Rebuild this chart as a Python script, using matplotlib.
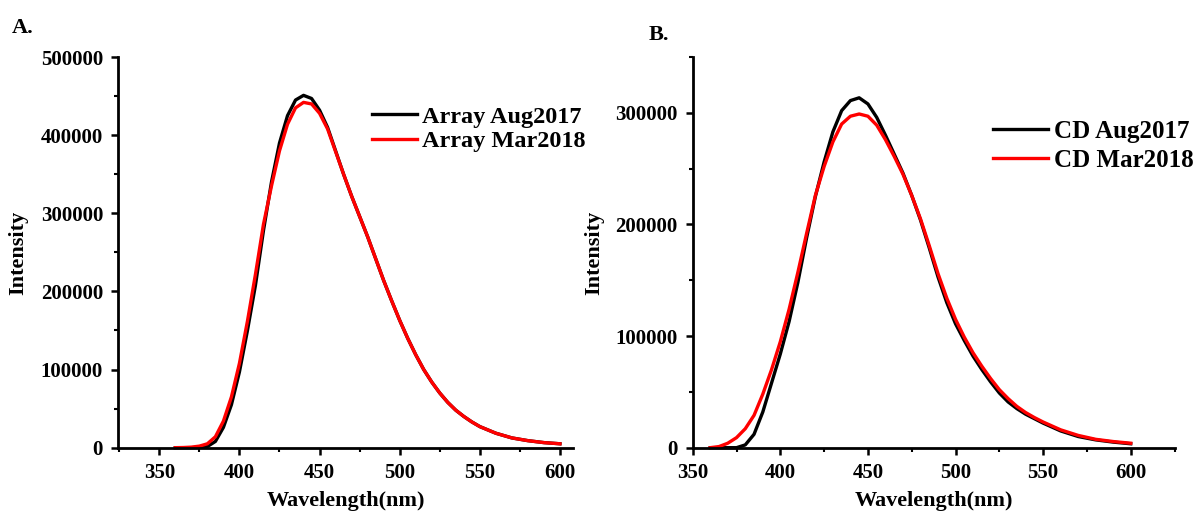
import numpy as np
import matplotlib
matplotlib.use("Agg")
import matplotlib.pyplot as plt
from matplotlib.ticker import MultipleLocator

plt.rcParams['font.family'] = ['Liberation Serif', 'DejaVu Serif']
plt.rcParams['font.weight'] = 'bold'

# wavelength grid (nm)
wl = [360, 365, 370, 375, 380, 385, 390, 395, 400, 405, 410, 415, 420, 425, 430,
      435, 440, 445, 450, 455, 460, 465, 470, 475, 480, 485, 490, 495, 500, 505,
      510, 515, 520, 525, 530, 535, 540, 545, 550, 560, 570, 580, 590, 600]

# panel A
array_aug2017 = [0, 0, 0, 300, 1500, 8000, 26000, 55000, 97000, 150000, 208000, 278000,
                 340000, 390000, 425000, 445000, 451000, 447000, 432000, 410000, 380000,
                 350000, 322000, 296000, 270000, 242000, 214000, 188000, 163000, 140000,
                 119000, 100000, 84000, 70000, 58000, 48000, 40000, 33000, 27000, 18500,
                 12500, 9000, 6500, 5000]
array_mar2018 = [0, 200, 700, 2000, 5000, 14000, 34000, 65000, 108000, 162000, 222000, 286000,
                 335000, 380000, 414000, 435000, 442000, 440000, 428000, 408000, 379000,
                 350000, 322000, 296000, 270000, 242000, 214000, 188000, 163000, 140000,
                 119000, 100000, 84000, 70000, 58000, 48000, 40000, 33000, 27000, 18500,
                 12500, 9000, 6500, 5000]

# panel B
cd_aug2017 = [0, 0, 0, 0, 2500, 12000, 32000, 58000, 84000, 113000, 148000, 188000,
              225000, 256000, 283000, 302000, 311000, 313500, 308000, 296000, 280000,
              263000, 246000, 226000, 204000, 179000, 153000, 130000, 111000, 96000,
              82000, 70000, 59000, 49000, 41000, 35000, 30000, 26000, 22000, 15000,
              10000, 7000, 5000, 3500]
cd_mar2018 = [0, 1000, 4000, 9000, 17000, 29000, 48000, 70000, 95000, 124000, 157000, 192000,
              226000, 252000, 274000, 290000, 297000, 299000, 297000, 289000, 276000,
              261000, 245000, 226000, 205000, 181000, 156000, 134000, 115000, 99000,
              85000, 73000, 62000, 52000, 44000, 37000, 31500, 27000, 23000, 16000,
              11000, 7500, 5500, 4000]

fig = plt.figure(figsize=(11.96, 5.16), dpi=100)
axA = fig.add_axes([0.0989, 0.1324, 0.3804, 0.757])
axB = fig.add_axes([0.5792, 0.1324, 0.4033, 0.757])


def style_axis(ax, xlim, ylim):
    ax.set_xlim(*xlim)
    ax.set_ylim(*ylim)
    for s in ['top', 'right']:
        ax.spines[s].set_visible(False)
    for s in ['left', 'bottom']:
        ax.spines[s].set_linewidth(2.0)
    ax.xaxis.set_major_locator(MultipleLocator(50))
    ax.xaxis.set_minor_locator(MultipleLocator(25))
    ax.yaxis.set_major_locator(MultipleLocator(100000))
    ax.yaxis.set_minor_locator(MultipleLocator(50000))
    ax.tick_params(which='major', direction='out', length=5, width=1.8, labelsize=15)
    ax.tick_params(axis='x', which='major', pad=6)
    ax.tick_params(axis='y', which='major', pad=6)
    ax.tick_params(which='minor', direction='out', length=3, width=1.5)
    for lab in ax.get_xticklabels() + ax.get_yticklabels():
        lab.set_fontweight('bold')
    ax.set_xlabel('Wavelength(nm)', fontsize=16, fontweight='bold', va='top')
    ax.set_ylabel('Intensity', fontsize=16, fontweight='bold')
    ax.xaxis.set_label_coords(0.5, -0.11)


axA.plot(wl, array_aug2017, color='black', lw=2.4, label='Array Aug2017', clip_on=False)
axA.plot(wl, array_mar2018, color='#ff0000', lw=2.4, label='Array Mar2018', clip_on=False)
style_axis(axA, (324.4, 608.3), (0, 500000))
axA.yaxis.set_label_coords(-0.198, 0.5)
axA.legend(loc='upper left', bbox_to_anchor=(0.311, 0.795), bbox_transform=fig.transFigure,
           frameon=False, handlelength=1.85, handletextpad=0.2,
           labelspacing=0.1, borderpad=0, borderaxespad=0,
           prop={'weight': 'bold', 'size': 17.5})

axB.plot(wl, cd_aug2017, color='black', lw=2.4, label='CD Aug2017', clip_on=False)
axB.plot(wl, cd_mar2018, color='#ff0000', lw=2.4, label='CD Mar2018', clip_on=False)
style_axis(axB, (350, 625.3), (0, 350000))
axB.yaxis.set_label_coords(-0.184, 0.5)
axB.legend(loc='upper left', bbox_to_anchor=(0.830, 0.767), bbox_transform=fig.transFigure,
           frameon=False, handlelength=2.2, handletextpad=0.25,
           labelspacing=0.22, borderpad=0, borderaxespad=0,
           prop={'weight': 'bold', 'size': 18})

fig.text(0.010, 0.937, 'A.', fontsize=16, fontweight='bold')
fig.text(0.542, 0.923, 'B.', fontsize=16, fontweight='bold')

fig.savefig('out.png', dpi=100)
